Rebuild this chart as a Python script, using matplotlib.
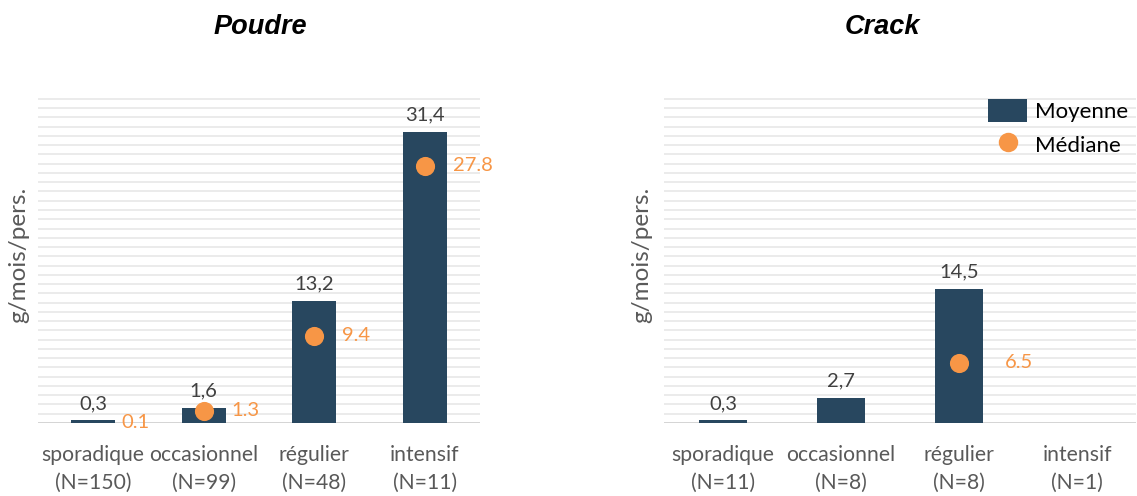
import matplotlib
matplotlib.use("Agg")
import matplotlib.pyplot as plt
from matplotlib.patches import Patch
from matplotlib.lines import Line2D
import numpy as np

plt.rcParams['font.family'] = ['Lato', 'DejaVu Sans']

# Poudre
poudre_cats = ["sporadique\n(N=150)", "occasionnel\n(N=99)", "régulier\n(N=48)", "intensif\n(N=11)"]
poudre_mean = [0.3, 1.6, 13.2, 31.4]
poudre_median = [0.1, 1.3, 9.4, 27.8]
poudre_median_dot = [False, True, True, True]

# Crack
crack_cats = ["sporadique\n(N=11)", "occasionnel\n(N=8)", "régulier\n(N=8)", "intensif\n(N=1)"]
crack_mean = [0.3, 2.7, 14.5, np.nan]
crack_median = [np.nan, np.nan, 6.5, np.nan]
crack_median_dot = [False, False, True, False]

BAR = '#28475F'
ORANGE = '#F79646'
TXT = '#404040'

W, H = 1137, 496
fig = plt.figure(figsize=(W / 100, H / 100), dpi=100)


def fr(x0, y0, x1, y1):
    return [x0 / W, 1 - y1 / H, (x1 - x0) / W, (y1 - y0) / H]


def panel(rect, cats, means, medians, dots, label_dx):
    ax = fig.add_axes(rect)
    x = np.arange(len(cats))
    ax.set_xlim(-0.5, len(cats) - 0.5)
    ax.set_ylim(0, 35.2)
    for v in range(1, 36):
        ax.axhline(v, color='#EBEBEB', lw=1.4, zorder=0)
    ax.axhline(0, color='#D0D0D0', lw=2.0, zorder=1)
    m = np.array(means, dtype=float)
    ax.bar(x, np.nan_to_num(m), width=0.4, color=BAR, zorder=2)
    for xi, v in zip(x, m):
        if np.isnan(v):
            continue
        ax.annotate(f"{v:.1f}".replace('.', ','), (xi, v), xytext=(0, 6),
                    textcoords='offset points', ha='center', va='bottom',
                    fontsize=14.5, color=TXT)
    for xi, v, d in zip(x, medians, dots):
        if np.isnan(v):
            continue
        if d:
            ax.scatter([xi], [v], s=190, color=ORANGE, zorder=3, linewidths=0)
        ax.annotate(f"{v:.1f}", (xi, v), xytext=(label_dx, 0),
                    textcoords='offset points', ha='left', va='center',
                    fontsize=14.5, color=ORANGE)
    ax.set_xticks(x)
    ax.set_xticklabels(cats, fontsize=15.2, color='#595959', linespacing=1.45)
    ax.tick_params(axis='x', length=0, pad=16)
    ax.set_yticks([])
    for s in ax.spines.values():
        s.set_visible(False)
    return ax


ax1 = panel(fr(38, 97, 480, 423), poudre_cats, poudre_mean, poudre_median, poudre_median_dot, 20)
ax2 = panel(fr(664, 97, 1136, 423), crack_cats, crack_mean, crack_median, crack_median_dot, 33)

fig.text(260 / W, 1 - 27 / H, "Poudre", ha='center', va='center', fontsize=19.5,
         fontweight='bold', fontstyle='italic', family='Liberation Sans', color='black')
fig.text(882 / W, 1 - 27 / H, "Crack", ha='center', va='center', fontsize=19.5,
         fontweight='bold', fontstyle='italic', family='Liberation Sans', color='black')

fig.text(19 / W, 1 - 255 / H, "g/mois/pers.", rotation=90, ha='center', va='center',
         fontsize=17.5, color='#595959')
fig.text(642 / W, 1 - 255 / H, "g/mois/pers.", rotation=90, ha='center', va='center',
         fontsize=17.5, color='#595959')

handles = [Patch(facecolor=BAR, edgecolor='none', label='Moyenne'),
           Line2D([], [], marker='o', linestyle='none', markersize=14,
                  markerfacecolor=ORANGE, markeredgecolor='none', label='Médiane')]
fig.legend(handles=handles, loc='upper right', bbox_to_anchor=(1.0, 1 - 90 / H),
           frameon=False, fontsize=16, handlelength=1.75, handleheight=1.25,
           labelspacing=0.45, handletextpad=0.35, labelcolor='black', borderaxespad=0)

fig.savefig("out.png", dpi=100)
